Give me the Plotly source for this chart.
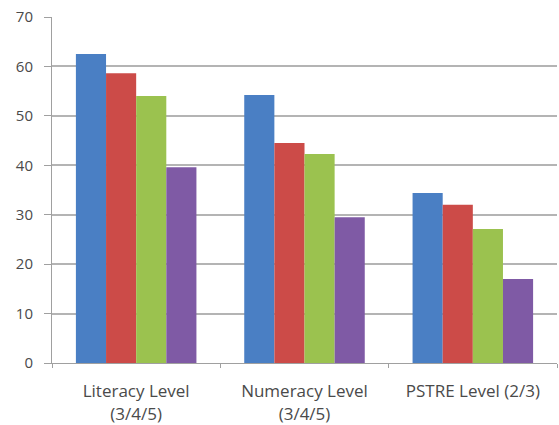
import plotly.graph_objects as go

# Skill levels reached, by domain (percent)
categories = ["Literacy Level<br>(3/4/5)", "Numeracy Level<br>(3/4/5)", "PSTRE Level (2/3)"]
series_a = [62.5, 54.2, 34.4]
series_b = [58.6, 44.5, 32.0]
series_c = [54.0, 42.3, 27.1]
series_d = [39.6, 29.5, 17.0]
colors = ["#4a7fc4", "#cc4b48", "#9bc24f", "#7f5aa5"]

fig = go.Figure()
for vals, col in zip([series_a, series_b, series_c, series_d], colors):
    fig.add_trace(go.Bar(x=categories, y=vals, marker=dict(color=col, line=dict(width=0)),
                         showlegend=False))

fig.update_layout(
    width=559, height=425,
    margin=dict(l=52, r=2, t=17, b=62),
    paper_bgcolor="white", plot_bgcolor="white",
    barmode="group", bargap=0.284, bargroupgap=0,
    font=dict(family="Open Sans", size=14, color="#4a4a4a"),
)
fig.update_yaxes(
    range=[0, 70], dtick=10, showgrid=True, gridcolor="#b4b4b4", gridwidth=2,
    showline=True, linecolor="#a0a0a0", linewidth=1,
    ticks="outside", ticklen=7, tickcolor="#a0a0a0", automargin=False,
    zeroline=False, tickfont=dict(size=15), ticklabelstandoff=8,
)
fig.update_xaxes(
    showline=True, linecolor="#a0a0a0", linewidth=1, automargin=False,
    ticks="outside", tickson="boundaries", ticklen=4, tickcolor="#a0a0a0",
    tickfont=dict(size=17), ticklabelstandoff=13,
)
fig.write_html("out.html")
